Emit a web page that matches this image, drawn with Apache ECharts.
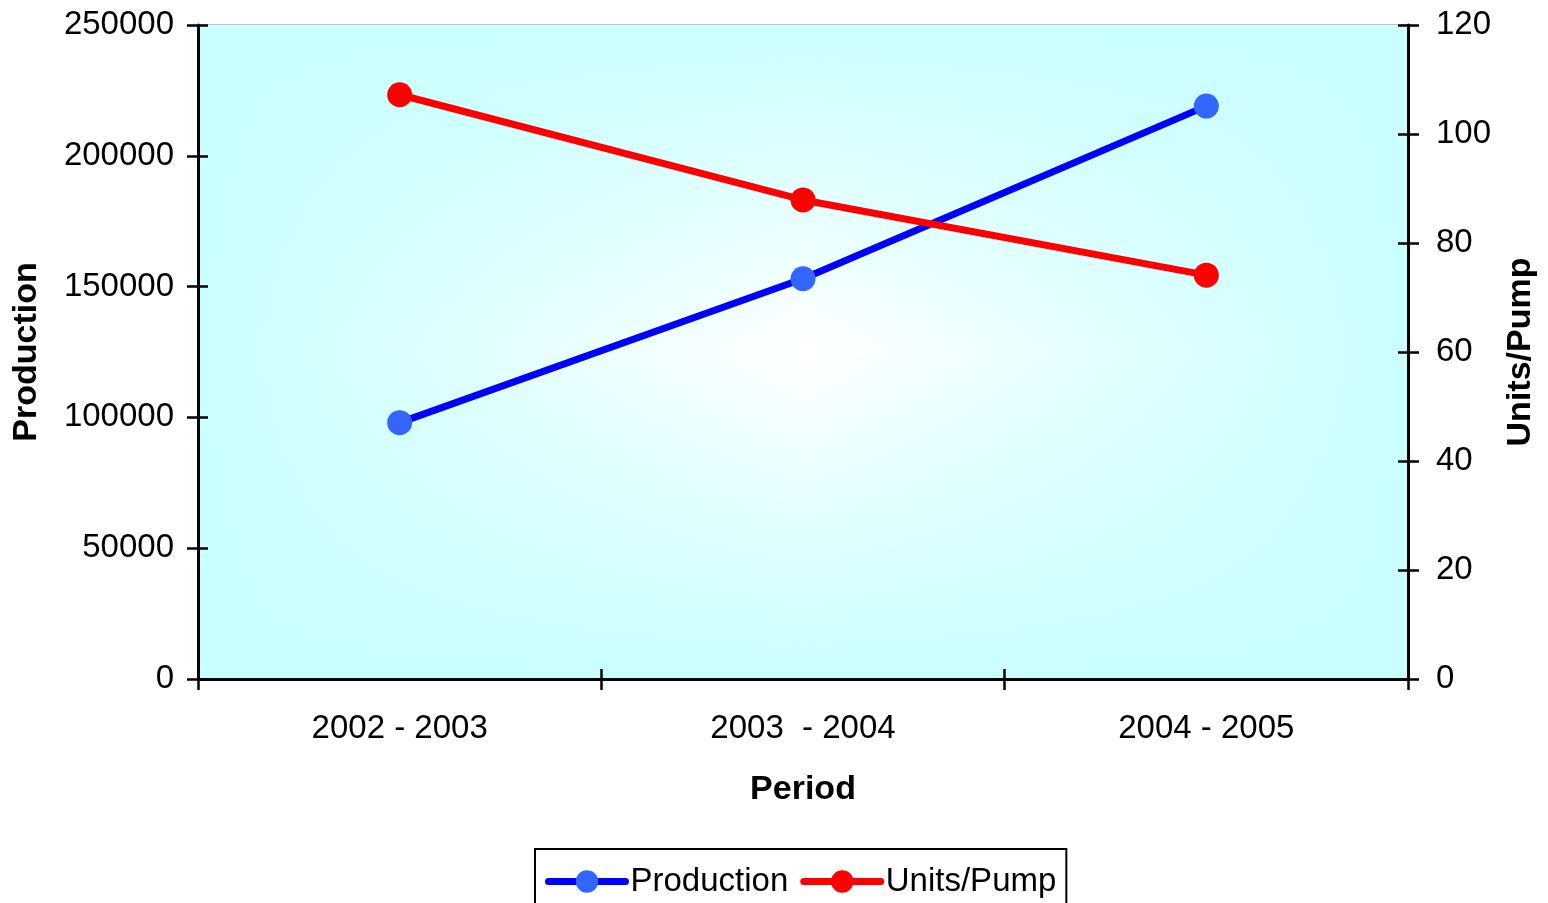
<!DOCTYPE html>
<html>
<head>
<meta charset="utf-8">
<script src="https://cdn.jsdelivr.net/npm/echarts@6/dist/echarts.min.js"></script>
<style>html,body{margin:0;padding:0;background:#fff;}#c{width:1548px;height:903px;}</style>
</head>
<body>
<div id="c"></div>
<script>
const categories = ['2002 - 2003', '2003  - 2004', '2004 - 2005'];
const production = [98000, 153000, 219000];
const unitsPerPump = [107.2, 87.9, 74.1];

const chart = echarts.init(document.getElementById('c'));
const FONT = 'Liberation Sans, Arial, sans-serif';
const FS = 33;
const TFS = 34;
const EDGE = '#c9ffff';
const grid = { left: 198, right: 140, top: 25, bottom: 224 };
const plotW = 1548 - grid.left - grid.right;
const plotH = 903 - grid.top - grid.bottom;
const noComma = v => String(v);

chart.setOption({
  animation: false,
  textStyle: { fontFamily: FONT },
  grid: {
    ...grid, show: true, borderColor: '#808080', borderWidth: 1,
    backgroundColor: {
      type: 'linear', x: 0, y: 0, x2: 1, y2: 0,
      colorStops: [
        { offset: 0, color: EDGE },
        { offset: 0.5, color: '#ffffff' },
        { offset: 1, color: EDGE }
      ]
    }
  },
  graphic: [{
    type: 'rect', left: grid.left, top: grid.top, z: 1, silent: true,
    shape: { width: plotW, height: plotH },
    style: {
      fill: {
        type: 'linear', x: 0, y: 0, x2: 0, y2: 1,
        colorStops: [
          { offset: 0, color: 'rgba(201,255,255,1)' },
          { offset: 0.5, color: 'rgba(201,255,255,0)' },
          { offset: 1, color: 'rgba(201,255,255,1)' }
        ]
      }
    }
  }],
  legend: {
    top: 849, left: 535,
    data: ['Production', 'Units/Pump'],
    borderColor: '#000', borderWidth: 2, padding: [16, 10, 16, 10],
    itemWidth: 77, itemHeight: 28, itemGap: 12,
    lineStyle: { width: 7, cap: 'round' },
    textStyle: { fontSize: FS, color: '#000', fontFamily: FONT }
  },
  xAxis: [
    {
      type: 'category', data: categories, boundaryGap: true, z: 5,
      name: 'Period', nameLocation: 'middle', nameGap: 94,
      nameTextStyle: { fontSize: TFS, fontWeight: 'bold', color: '#000', fontFamily: FONT },
      axisLine: { lineStyle: { color: '#000', width: 3 } },
      axisTick: { show: true, inside: false, length: 11, lineStyle: { color: '#000', width: 2.5 } },
      axisLabel: { fontSize: FS, color: '#000', margin: 33, fontFamily: FONT },
      splitLine: { show: false }
    },
    {
      type: 'category', data: categories, boundaryGap: true, position: 'bottom', z: 5,
      axisLine: { show: false },
      axisTick: { show: true, inside: true, length: 10, lineStyle: { color: '#000', width: 2.5 } },
      axisLabel: { show: false }, splitLine: { show: false }
    }
  ],
  yAxis: [
    {
      type: 'value', min: 0, max: 250000, interval: 50000, position: 'left', z: 5,
      name: 'Production', nameLocation: 'middle', nameGap: 154, nameRotate: 90,
      nameTextStyle: { fontSize: TFS, fontWeight: 'bold', color: '#000', fontFamily: FONT },
      axisLine: { show: true, lineStyle: { color: '#000', width: 3 } },
      axisTick: { show: true, inside: false, length: 11, lineStyle: { color: '#000', width: 2.5 } },
      axisLabel: { fontSize: FS, color: '#000', margin: 24, fontFamily: FONT, formatter: noComma },
      splitLine: { show: false }
    },
    {
      type: 'value', min: 0, max: 120, interval: 20, position: 'right', z: 5,
      name: 'Units/Pump', nameLocation: 'middle', nameGap: 96, nameRotate: 90,
      nameTextStyle: { fontSize: TFS, fontWeight: 'bold', color: '#000', fontFamily: FONT },
      axisLine: { show: true, lineStyle: { color: '#000', width: 3 } },
      axisTick: { show: true, inside: false, length: 11, lineStyle: { color: '#000', width: 2.5 } },
      axisLabel: { fontSize: FS, color: '#000', margin: 28, fontFamily: FONT, formatter: noComma },
      splitLine: { show: false }
    },
    {
      type: 'value', min: 0, max: 250000, interval: 50000, position: 'left', z: 5,
      axisLine: { show: false },
      axisTick: { show: true, inside: true, length: 10, lineStyle: { color: '#000', width: 2.5 } },
      axisLabel: { show: false }, splitLine: { show: false }
    },
    {
      type: 'value', min: 0, max: 120, interval: 20, position: 'right', z: 5,
      axisLine: { show: false },
      axisTick: { show: true, inside: true, length: 10, lineStyle: { color: '#000', width: 2.5 } },
      axisLabel: { show: false }, splitLine: { show: false }
    }
  ],
  series: [
    {
      name: 'Production', type: 'line', data: production, yAxisIndex: 0, xAxisIndex: 0,
      symbol: 'circle', symbolSize: 25, z: 3,
      lineStyle: { color: '#0000ff', width: 7 },
      itemStyle: { color: '#3366ff' }
    },
    {
      name: 'Units/Pump', type: 'line', data: unitsPerPump, yAxisIndex: 1, xAxisIndex: 0,
      symbol: 'circle', symbolSize: 25, z: 3,
      lineStyle: { color: '#ff0000', width: 7 },
      itemStyle: { color: '#ff0000' }
    }
  ]
});
</script>
</body>
</html>
